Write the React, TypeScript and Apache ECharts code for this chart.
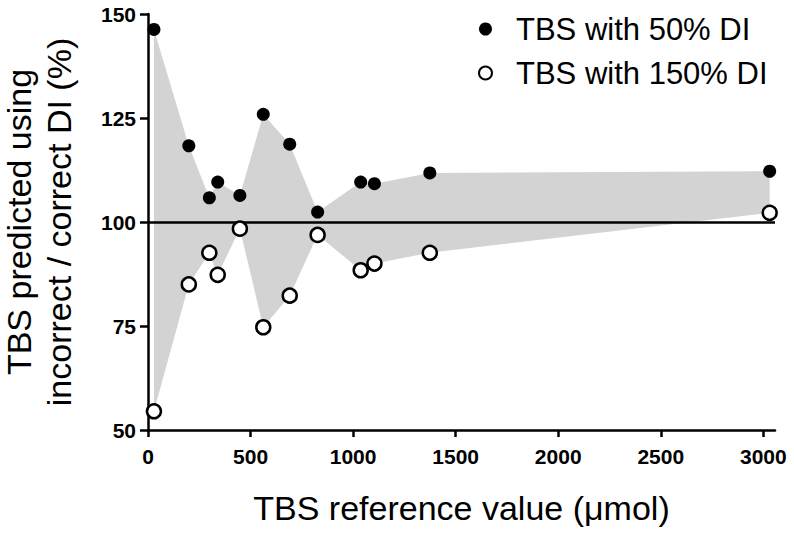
import React, { useEffect, useRef } from "react";
import * as echarts from "echarts";

const refValues = [29, 199, 299, 340, 448, 562, 691, 827, 1037, 1104, 1374, 3031];
const di50 = [146.3, 118.3, 105.8, 109.6, 106.4, 125.9, 118.7, 102.4, 109.6, 109.2, 111.8, 112.2];
const di150 = [54.5, 85.0, 92.6, 87.3, 98.4, 74.7, 82.3, 96.9, 88.4, 90.0, 92.6, 102.2];
const xTicks = [0, 500, 1000, 1500, 2000, 2500, 3000];
const seriesNames = ["TBS with 50% DI", "TBS with 150% DI"];

const FONT = "'Liberation Sans', Arial, sans-serif";

export default function App() {
  const ref = useRef<HTMLDivElement>(null);
  useEffect(() => {
    document.body.style.margin = "0";
    const chart = echarts.init(ref.current!, null, { renderer: "svg" });
    chart.setOption({
      animation: false,
      backgroundColor: "#ffffff",
      textStyle: { fontFamily: FONT },
      grid: { left: 148, right: 19, top: 14, bottom: 103, containLabel: false, outerBoundsMode: "none" },
      legend: {
        orient: "vertical",
        left: 473,
        top: 7,
        itemGap: 10,
        itemWidth: 13,
        itemHeight: 13,
        data: seriesNames,
        textStyle: { fontSize: 31, color: "#000", fontFamily: FONT, lineHeight: 34, padding: [0, 0, 0, 19] },
      },
      xAxis: {
        type: "value",
        min: 0,
        max: 3057,
        interval: 500,
        name: "TBS reference value (\u03bcmol)",
        nameLocation: "middle",
        nameGap: 61,
        nameMoveOverlap: false,
        nameTextStyle: { fontSize: 34, color: "#000", fontFamily: FONT },
        axisLine: { show: true, onZero: false, lineStyle: { color: "#000", width: 2.5 } },
        axisTick: { show: true, length: 7, lineStyle: { color: "#000", width: 2.5 }, customValues: xTicks },
        axisLabel: {
          fontSize: 21,
          fontWeight: "bold",
          color: "#000",
          margin: 16,
          customValues: xTicks,
          fontFamily: FONT,
          formatter: (v: number) => String(v),
        },
        splitLine: { show: false },
      },
      yAxis: {
        type: "value",
        min: 50,
        max: 150,
        interval: 25,
        name: "TBS predicted using\nincorrect / correct DI (%)",
        nameLocation: "middle",
        nameGap: 69,
        nameMoveOverlap: false,
        nameRotate: 90,
        nameTextStyle: { fontSize: 34, color: "#000", lineHeight: 40, fontFamily: FONT },
        axisLine: { show: true, onZero: false, lineStyle: { color: "#000", width: 2.5 } },
        axisTick: { show: true, length: 8, lineStyle: { color: "#000", width: 2.5 } },
        axisLabel: { fontSize: 21, fontWeight: "bold", color: "#000", margin: 12, fontFamily: FONT },
        splitLine: { show: false },
      },
      series: [
        {
          name: "band",
          type: "custom",
          silent: true,
          z: 1,
          data: refValues.map((x, i) => [x, di50[i], di150[i]]),
          encode: { x: 0, y: [1, 2] },
          renderItem: (params: any, api: any) => {
            if (params.dataIndex !== 0) return null;
            const upper = refValues.map((x, i) => api.coord([x, di50[i]]));
            const lower = refValues.map((x, i) => api.coord([x, di150[i]])).reverse();
            return {
              type: "polygon",
              shape: { points: upper.concat(lower) },
              style: { fill: "#d3d3d3", stroke: "none" },
            };
          },
          markLine: {
            silent: true,
            symbol: "none",
            label: { show: false },
            lineStyle: { color: "#000", width: 2.5, type: "solid" },
            data: [{ yAxis: 100 }],
          },
        },
        {
          name: seriesNames[0],
          type: "scatter",
          data: refValues.map((x, i) => [x, di50[i]]),
          symbol: "circle",
          symbolSize: 13,
          itemStyle: { color: "#000", opacity: 1 },
          z: 5,
        },
        {
          name: seriesNames[1],
          type: "scatter",
          data: refValues.map((x, i) => [x, di150[i]]),
          symbol: "circle",
          symbolSize: 14,
          itemStyle: { color: "#fff", borderColor: "#000", borderWidth: 2.5, opacity: 1 },
          z: 5,
        },
      ],
    });
    return () => chart.dispose();
  }, []);
  return <div ref={ref} style={{ width: 794, height: 533 }} />;
}
